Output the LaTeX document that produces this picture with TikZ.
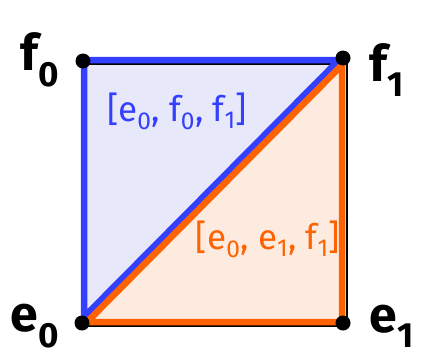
\documentclass[tikz,border=0pt]{standalone}
\usepackage{fontspec}
\setmainfont{Fira Sans}
\usepackage{tikz}
\usetikzlibrary{calc}

\definecolor{simpblue}{RGB}{51,64,255}
\definecolor{simporange}{RGB}{255,98,0}
\definecolor{fillblue}{RGB}{232,232,251}
\definecolor{fillorange}{RGB}{253,235,224}

\tikzset{
  vertex/.style={circle, fill=black, inner sep=0pt, minimum size=15pt},
  vlabel/.style={font=\fontsize{50}{50}\selectfont\bfseries},
  simplex/.style={line width=6.5pt, line join=round, line cap=round},
  slabel/.style={font=\fontsize{35}{35}\selectfont},
}

\begin{document}
\begin{tikzpicture}[x=1pt, y=-1pt]
  \useasboundingbox (0,0) rectangle (422,356);
  % Corners of the square:
  \coordinate (f0) at (84,60);
  \coordinate (f1) at (342,60);
  \coordinate (e0) at (84,322);
  \coordinate (e1) at (342,322);
  % Fills:
  \fill[fillblue] (f0) -- ($(f1)+(-3,0)$) -- ($(e0)+(0,-5)$) -- cycle;
  \fill[fillorange] ($(e0)+(3,0)$) -- (e1) -- ($(f1)+(0,5)$) -- cycle;
  % Square behind:
  \draw[line width=2pt] ($(f0)+(2,4)$) rectangle ($(e1)+(5,4)$);
  % The two triangles:
  \draw[simplex, simpblue] (f0) -- ($(f1)+(-3,0)$) -- ($(e0)+(0,-5)$) -- cycle;
  \draw[simplex, simporange] ($(e0)+(3,0)$) -- (e1) -- ($(f1)+(0,5)$) -- cycle;
  % Vertices:
  \node[vertex] (f0dot) at ($(f0)+(-1,1)$) {};
  \node[vertex] (f1dot) at ($(f1)+(1,-2)$) {};
  \node[vertex] (e0dot) at ($(e0)+(-2,1)$) {};
  \node[vertex] (e1dot) at ($(e1)+(1,1)$) {};
  \node[vlabel] (f0lab) at (40,60) {f\textsubscript{0}};
  \node[vlabel] (f1lab) at (387,70) {f\textsubscript{1}};
  \node[vlabel] (e0lab) at (35,326) {e\textsubscript{0}};
  \node[vlabel] (e1lab) at (392,326) {e\textsubscript{1}};
  \node[slabel, text=simpblue] (blab) at (177,111) {[e\textsubscript{0}, f\textsubscript{0}, f\textsubscript{1}]};
  \node[slabel, text=simporange] (olab) at (268,239) {[e\textsubscript{0}, e\textsubscript{1}, f\textsubscript{1}]};
\end{tikzpicture}
\end{document}
